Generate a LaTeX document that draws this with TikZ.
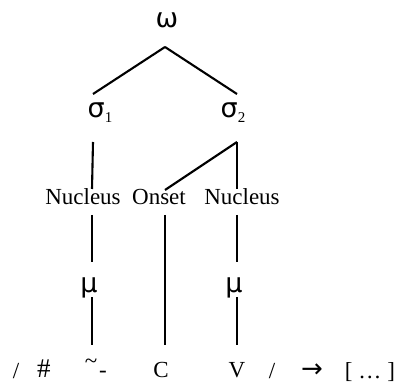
\documentclass[tikz,border=0pt]{standalone}
\usepackage{fontspec}
\setmainfont{Liberation Serif}
\newfontfamily\greekfont{DejaVu Sans}
\usepackage{tikz}

% Greek letters sit a size above the roman text
\newcommand{\gr}[1]{{\greekfont\fontsize{27}{30}\selectfont #1}}
\newcommand{\lowidx}[1]{\raisebox{-5pt}{\fontsize{15}{17}\selectfont #1}}

\begin{document}
\begin{tikzpicture}[x=1pt,y=-1pt,
	lab/.style={anchor=base,inner sep=0pt,font=\fontsize{23}{26}\selectfont},
	edge/.style={line width=2.1pt}]
	\useasboundingbox (0,0) rectangle (402,385);
	% word and syllables
	\node [lab] (w) at (167,28) {\gr{ω}};
	\node [lab] (s1) at (100,118) {\gr{σ}\lowidx{1}};
	\node [lab] (s2) at (233,118) {\gr{σ}\lowidx{2}};
	% constituents
	\node [lab] (n1) at (83,205) {Nucleus};
	\node [lab] (on) at (159,205) {Onset};
	\node [lab] (n2) at (242,205) {Nucleus};
	\node [lab] (m1) at (89,292) {\gr{μ}};
	\node [lab] (m2) at (234,292) {\gr{μ}};
	% segments
	\node [lab] (sl1) at (16,378) {/};
	\node [lab] (hash) at (44,377) {\fontsize{27}{30}\selectfont\#};
	\node [lab] (x) at (91,368) {\textasciitilde};
	\node [lab] (hy) at (103,377) {-};
	\node [lab] (tick) at (91,394) {{\greekfont ˌ}};
	\node [lab] (c) at (161,377) {C};
	\node [lab] (v) at (237,377) {V};
	\node [lab] (sl2) at (272,378) {/};
	\node [lab] (arr) at (312,377) {{\greekfont\fontsize{26}{28}\selectfont →}};
	\node [lab] (br) at (370,378) {[\hspace{6pt}…\hspace{6pt}]};
	\draw [edge] ([xshift=-2pt,yshift=-19pt]w.base) -- ([xshift=-7pt,yshift=24pt]s1.base);
	\draw [edge] ([xshift=-2pt,yshift=-19pt]w.base) -- ([xshift=4pt,yshift=24pt]s2.base);
	\draw [edge] ([xshift=-7pt,yshift=-24pt]s1.base) -- ([xshift=9pt,yshift=16pt]n1.base);
	\draw [edge] ([xshift=4pt,yshift=-24pt]s2.base) -- ([xshift=6pt,yshift=15pt]on.base);
	\draw [edge] ([xshift=4pt,yshift=-24pt]s2.base) -- ([xshift=-5pt,yshift=16pt]n2.base);
	\draw [edge] ([xshift=9pt,yshift=-10pt]n1.base) -- ([xshift=3pt,yshift=30pt]m1.base);
	\draw [edge] ([xshift=3pt,yshift=-5pt]m1.base) -- ([xshift=1pt,yshift=23pt]x.base);
	\draw [edge] ([xshift=6pt,yshift=-10pt]on.base) -- ([xshift=4pt,yshift=32pt]c.base);
	\draw [edge] ([xshift=-5pt,yshift=-10pt]n2.base) -- ([xshift=3pt,yshift=30pt]m2.base);
	\draw [edge] ([xshift=3pt,yshift=-5pt]m2.base) -- ([yshift=32pt]v.base);
\end{tikzpicture}
\end{document}
